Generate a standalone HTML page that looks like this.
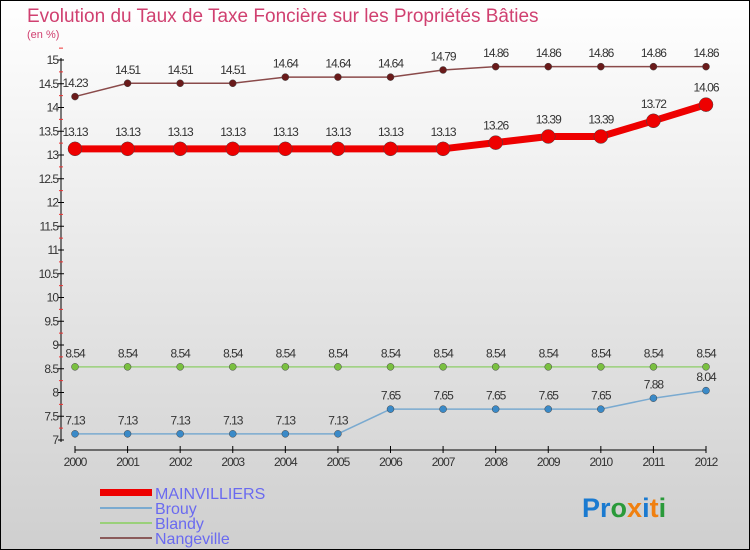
<!DOCTYPE html>
<html><head><meta charset="utf-8"><style>
body{margin:0}
svg{display:block;font-family:"Liberation Sans",sans-serif}
</style></head><body>
<svg width="750" height="550" viewBox="0 0 750 550">
<defs><linearGradient id="bg" x1="0" y1="0" x2="0" y2="1"><stop offset="0" stop-color="#ffffff"/><stop offset="1" stop-color="#cfcfcf"/></linearGradient></defs>
<rect x="0.5" y="0.5" width="749" height="549" fill="url(#bg)" stroke="#000"/>
<text x="27" y="22" font-size="19" fill="#d04070">Evolution du Taux de Taxe Foncière sur les Propriétés Bâties</text>
<text x="27" y="38" font-size="11" fill="#d04070">(en %)</text>
<g id="axes"></g>
<g id="series"></g>
<g>
<rect x="100" y="489" width="52" height="7" fill="#e00"/>
<text x="155" y="499" font-size="16" fill="#6a6af0">MAINVILLIERS</text>
<rect x="100" y="507" width="52" height="2" fill="#7aaad0"/>
<text x="155" y="514" font-size="16" fill="#6a6af0">Brouy</text>
<rect x="100" y="522" width="52" height="2" fill="#9ad07a"/>
<text x="155" y="529" font-size="16" fill="#6a6af0">Blandy</text>
<rect x="100" y="537" width="52" height="2" fill="#8a5a5a"/>
<text x="155" y="544" font-size="16" fill="#6a6af0">Nangeville</text>
</g>
<text x="582" y="517" font-size="27" font-weight="bold"><tspan fill="#1a7ad0">Pr</tspan><tspan fill="#2a9a3a">o</tspan><tspan fill="#f08010">x</tspan><tspan fill="#1a7ad0">i</tspan><tspan fill="#f08010">t</tspan><tspan fill="#2a9a3a">i</tspan></text>
</svg>
<script>
const years=[2000,2001,2002,2003,2004,2005,2006,2007,2008,2009,2010,2011,2012];
const yTicks=[7,7.5,8,8.5,9,9.5,10,10.5,11,11.5,12,12.5,13,13.5,14,14.5,15];
const mainvilliers=[13.13,13.13,13.13,13.13,13.13,13.13,13.13,13.13,13.26,13.39,13.39,13.72,14.06];
const brouy=[7.13,7.13,7.13,7.13,7.13,7.13,7.65,7.65,7.65,7.65,7.65,7.88,8.04];
const blandy=[8.54,8.54,8.54,8.54,8.54,8.54,8.54,8.54,8.54,8.54,8.54,8.54,8.54];
const nangeville=[14.23,14.51,14.51,14.51,14.64,14.64,14.64,14.79,14.86,14.86,14.86,14.86,14.86];
const NS="http://www.w3.org/2000/svg";
const X=i=>75+i*(706-75)/(years.length-1);
const Y=v=>440-(v-7)*47.5;
function el(t,a,p){const e=document.createElementNS(NS,t);for(const k in a)e.setAttribute(k,a[k]);p.appendChild(e);return e;}
const ax=document.getElementById('axes');
let yl=el('line',{x1:61,y1:58,x2:61,y2:442,stroke:'#000'},ax);


yTicks.forEach(v=>{
 el('line',{x1:58,y1:Y(v),x2:64,y2:Y(v),stroke:'#000'},ax);
 el('line',{x1:59,y1:Y(v+0.25),x2:63,y2:Y(v+0.25),stroke:'#e33'},ax);
 const t=el('text',{x:58,y:Y(v)+4,'font-size':12,fill:'#333','text-anchor':'end','letter-spacing':'-1'},ax);
 t.textContent=v;
 
 
});
let xl=el('line',{x1:75,y1:450,x2:706,y2:450,stroke:'#000'},ax);


years.forEach((y,i)=>{
 el('line',{x1:X(i),y1:446,x2:X(i),y2:453,stroke:'#000'},ax);
 const t=el('text',{x:X(i),y:466,'font-size':12,fill:'#333','text-anchor':'middle','letter-spacing':'-1'},ax);
 t.textContent=y;
 
 
});
const sg=document.getElementById('series');
function series(name,data,color,dot,w,r){
 const g=el('g',{},sg);
 
 
 const pl=el('polyline',{points:data.map((v,i)=>X(i)+','+Y(v)).join(' '),fill:'none',stroke:color,'stroke-width':w,'stroke-linejoin':'round'},g);
 
 
 data.forEach((v,i)=>{
  const c=el('circle',{cx:X(i),cy:Y(v),r:r,fill:dot,stroke:'#444','stroke-width':0.5},g);
  
  
  const t=el('text',{x:X(i),y:Y(v)-(r+6),'font-size':12,fill:'#333','text-anchor':'middle','letter-spacing':'-1'},g);
  t.textContent=v;
  
  
 });
}
series('nangeville',nangeville,'#8a4a4a','#6a1a1a',1.5,3.5);
series('mainvilliers',mainvilliers,'#ee0000','#ee0000',7,7);
series('blandy',blandy,'#9ad07a','#7ac040',1.5,3.5);
series('brouy',brouy,'#7aaad0','#3a8ac8',1.5,3.5);
</script>
</body></html>
